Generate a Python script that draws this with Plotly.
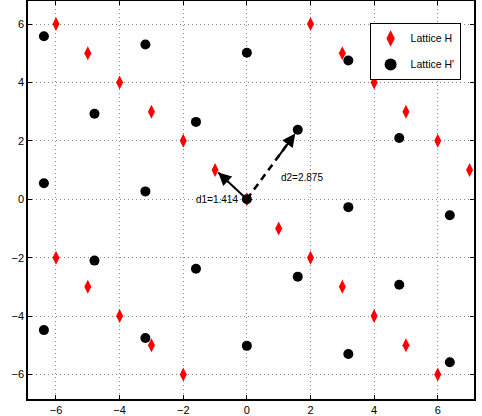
import plotly.graph_objects as go

# Lattice H (red diamonds)
h_x = [-6, -5, -4, -3, -2, -1, 0, 1, 2, 3, 4, 5, 6,
       2, 3, 4, 5, 6, 7,
       -6, -5, -4, -3, -2]
h_y = [6, 5, 4, 3, 2, 1, 0, -1, -2, -3, -4, -5, -6,
       6, 5, 4, 3, 2, 1,
       -2, -3, -4, -5, -6]

# Lattice H' (black circles)
hp_x = [-6.38, -3.19, 0.0, 3.19,
        -4.79, -1.60, 1.60, 4.79,
        -6.38, -3.19, 0.0, 3.19, 6.38,
        -4.79, -1.60, 1.60, 4.79,
        -6.38, -3.19, 0.0, 3.19, 6.38]
hp_y = [5.58, 5.30, 5.02, 4.75,
        2.93, 2.65, 2.38, 2.10,
        0.55, 0.27, 0.0, -0.27, -0.55,
        -2.10, -2.38, -2.65, -2.93,
        -4.48, -4.75, -5.02, -5.30, -5.58]

# distance vectors
d1_x = [0, -0.9]
d1_y = [0, 0.92]
d2_x = [0, 1.52]
d2_y = [0, 2.25]
d1_label = "d1=1.414"
d2_label = "d2=2.875"

ticks = [-6, -4, -2, 0, 2, 4, 6]
tick_text = ["\u22126", "\u22124", "\u22122", "0", "2", "4", "6"]

fig = go.Figure()
fig.add_trace(go.Scatter(x=d1_x, y=d1_y, mode="lines",
                         line=dict(color="black", width=2), showlegend=False))
fig.add_trace(go.Scatter(x=d2_x, y=d2_y, mode="lines",
                         line=dict(color="black", width=2.5, dash="7px,5px"), showlegend=False))
fig.add_trace(go.Scatter(x=h_x, y=h_y, mode="markers", name="Lattice H", legendgroup="h",
                         marker=dict(symbol="diamond-tall", size=10, color="red")))
fig.add_trace(go.Scatter(x=hp_x, y=hp_y, mode="markers", name="Lattice H'", legendgroup="hp",
                         marker=dict(symbol="circle", size=10, color="black")))

for xs, ys in [(d1_x, d1_y), (d2_x, d2_y)]:
    fig.add_annotation(x=xs[1], y=ys[1], ax=xs[0] + (xs[1] - xs[0]) * 0.6,
                       ay=ys[0] + (ys[1] - ys[0]) * 0.6,
                       xref="x", yref="y", axref="x", ayref="y",
                       showarrow=True, arrowhead=2, arrowsize=1.3, arrowwidth=2,
                       arrowcolor="black", text="")

fig.add_annotation(x=-0.22, y=0, text=d1_label, showarrow=False, xanchor="right",
                   yanchor="middle", font=dict(size=10, color="black"))
fig.add_annotation(x=1.73, y=0.73, text=d2_label, showarrow=False, xanchor="center",
                   yanchor="middle", font=dict(size=10, color="black"))

axis_common = dict(showline=True, linecolor="black", linewidth=1.5, mirror="ticks",
                   ticks="inside", ticklen=4, tickcolor="black", automargin=False,
                   showgrid=True, gridcolor="#888888", griddash="1px,3px", gridwidth=1,
                   zeroline=False, tickvals=ticks, ticktext=tick_text,
                   tickfont=dict(size=11, color="black"))
fig.update_xaxes(range=[-6.88, 7.14], **axis_common)
fig.update_yaxes(range=[-6.84, 6.79], **axis_common)

fig.update_layout(
    width=482, height=416,
    margin=dict(l=28, r=8, t=1, b=17, autoexpand=False),
    paper_bgcolor="white", plot_bgcolor="white",
    font=dict(family="Liberation Sans, Arial, sans-serif", size=11, color="black"),
    legend=dict(x=0.97, y=0.945, xanchor="right", yanchor="top",
                bgcolor="white", bordercolor="black", borderwidth=1,
                font=dict(size=10.5), itemsizing="constant", tracegroupgap=7,
                traceorder="grouped"),
)

fig.write_html("out.html", config={"displayModeBar": False},
               post_script="document.body.style.margin='0';document.body.style.overflow='hidden';")
